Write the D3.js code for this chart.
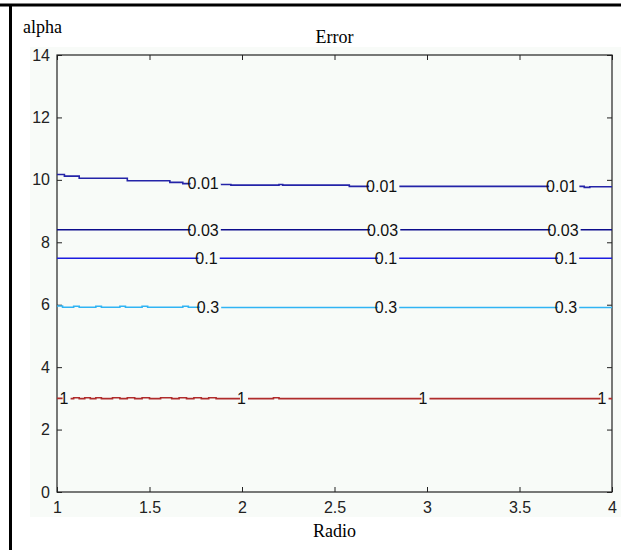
<!DOCTYPE html>
<html>
<head>
<meta charset="utf-8">
<script src="https://cdn.jsdelivr.net/npm/d3@7"></script>
<style>
  body { margin: 0; background: #fff; }
  svg { display: block; }
  .tick text { font-family: "Liberation Sans", Arial, sans-serif; font-size: 16px; fill: #222; }
  .tick line { stroke: #222; }
  .lbl { font-family: "Liberation Serif", "Times New Roman", serif; font-size: 18px; fill: #000; }
  .clabel { font-family: "Liberation Sans", Arial, sans-serif; font-size: 16px; fill: #111; }
</style>
</head>
<body>
<div id="chart"></div>
<script>
// Données : courbes de niveau de l'erreur (alpha en fonction de Radio)
const levels = ["0.01", "0.03", "0.1", "0.3", "1"];
const colors = ["#2424a8", "#0c0c8c", "#1c1ce0", "#30b4f4", "#b02c2c"];

const xTicks = [1, 1.5, 2, 2.5, 3, 3.5, 4];
const yTicks = [0, 2, 4, 6, 8, 10, 12, 14];

// points (radio, alpha) de chaque courbe, en escalier
const line001x = [1.00, 1.04, 1.12, 1.38, 1.61, 1.68, 1.88, 1.94, 2.20, 2.22, 2.58, 3.85, 3.88, 4.00];
const line001y = [10.17, 10.12, 10.05, 9.97, 9.92, 9.88, 9.85, 9.83, 9.85, 9.83, 9.79, 9.76, 9.78, 9.78];

const line003x = [1.00, 4.00];
const line003y = [8.40, 8.40];

const line01x = [1.00, 4.00];
const line01y = [7.49, 7.49];

const line03x = [1.00, 1.03, 1.09, 1.12, 1.21, 1.24, 1.34, 1.37, 1.46, 1.49, 1.68, 1.71, 1.80, 4.00];
const line03y = [5.96, 5.92, 5.95, 5.92, 5.95, 5.92, 5.95, 5.92, 5.95, 5.92, 5.95, 5.92, 5.91, 5.91];

const line1x = [1.00, 1.06, 1.09, 1.12, 1.15, 1.18, 1.21, 1.24, 1.30, 1.34, 1.38, 1.42, 1.46, 1.50,
                1.56, 1.62, 1.66, 1.70, 1.74, 1.78, 1.82, 1.86, 1.90, 2.00, 2.17, 2.20, 4.00];
const line1y = [3.00, 2.99, 3.02, 2.99, 3.02, 2.99, 3.02, 2.99, 3.02, 2.99, 3.02, 2.99, 3.02, 2.99,
                3.02, 2.99, 3.02, 2.99, 3.02, 2.99, 3.02, 2.99, 2.99, 2.99, 3.02, 2.99, 2.99];

const lineX = [line001x, line003x, line01x, line03x, line1x];
const lineY = [line001y, line003y, line01y, line03y, line1y];

// positions des étiquettes (valeur de Radio) sur chaque courbe
const labelX = [
  [1.79, 2.755, 3.728],
  [1.79, 2.76, 3.735],
  [1.808, 2.778, 3.751],
  [1.816, 2.778, 3.751],
  [1.038, 1.997, 2.978, 3.946]
];

const W = 621, H = 550;
const margin = { top: 55, right: 9, bottom: 58, left: 57 };
const width = W - margin.left - margin.right;
const height = H - margin.top - margin.bottom;
const bg = "#f8fbf8";

const svg = d3.select("#chart").append("svg")
  .attr("width", W)
  .attr("height", H);

// fond de la figure
svg.append("rect")
  .attr("x", 30).attr("y", 47)
  .attr("width", W - 30).attr("height", 470)
  .attr("fill", bg);

// cadre extérieur (haut et gauche)
svg.append("line").attr("x1", 0).attr("x2", W).attr("y1", 5).attr("y2", 5)
  .attr("stroke", "#000").attr("stroke-width", 3);
svg.append("line").attr("x1", 10.5).attr("x2", 10.5).attr("y1", 5).attr("y2", H)
  .attr("stroke", "#000").attr("stroke-width", 3);

const g = svg.append("g")
  .attr("transform", `translate(${margin.left},${margin.top})`);

const x = d3.scaleLinear().domain([1, 4]).range([0, width]);
const y = d3.scaleLinear().domain([0, 14]).range([height, 0]);

// Axes
g.append("g")
  .attr("transform", `translate(0,${height})`)
  .call(d3.axisBottom(x).tickValues(xTicks).tickFormat(d3.format("")).tickSizeInner(-5).tickSizeOuter(0).tickPadding(10))
  .call(a => a.select(".domain").remove());

g.append("g")
  .call(d3.axisLeft(y).tickValues(yTicks).tickSizeInner(-5).tickSizeOuter(0).tickPadding(7))
  .call(a => a.select(".domain").remove());

g.append("g")
  .call(d3.axisTop(x).tickValues(xTicks).tickFormat("").tickSizeInner(-5).tickSizeOuter(0))
  .call(a => a.select(".domain").remove());

g.append("g")
  .attr("transform", `translate(${width},0)`)
  .call(d3.axisRight(y).tickValues(yTicks).tickFormat("").tickSizeInner(-5).tickSizeOuter(0))
  .call(a => a.select(".domain").remove());

// cadre du graphique
g.append("rect")
  .attr("width", width).attr("height", height)
  .attr("fill", "none").attr("stroke", "#222").attr("stroke-width", 1.2);

// Courbes
const line = d3.line()
  .x(d => x(d[0]))
  .y(d => y(d[1]))
  .curve(d3.curveStepAfter);

levels.forEach((lev, i) => {
  const pts = lineX[i].map((v, j) => [v, lineY[i][j]]);
  g.append("path")
    .datum(pts)
    .attr("fill", "none")
    .attr("stroke", colors[i])
    .attr("stroke-width", 1.6)
    .attr("d", line);
});

// Étiquettes des courbes
function alphaAt(i, xv) {
  const xs = lineX[i], ys = lineY[i];
  let v = ys[0];
  xs.forEach((xx, j) => { if (xx <= xv) v = ys[j]; });
  return v;
}

levels.forEach((lev, i) => {
  labelX[i].forEach(xv => {
    const lg = g.append("g");
    const t = lg.append("text")
      .attr("class", "clabel")
      .attr("x", x(xv))
      .attr("y", y(alphaAt(i, xv)))
      .attr("dy", "0.36em")
      .attr("text-anchor", "middle")
      .text(lev);
    const bb = t.node().getBBox();
    lg.insert("rect", "text")
      .attr("x", bb.x + 3)
      .attr("y", bb.y + 2)
      .attr("width", bb.width - 1)
      .attr("height", bb.height - 4)
      .attr("fill", bg);
  });
});

// Titres
svg.append("text").attr("class", "lbl")
  .attr("x", 23).attr("y", 33).text("alpha");

svg.append("text").attr("class", "lbl")
  .attr("x", margin.left + width / 2).attr("y", 43)
  .attr("text-anchor", "middle").text("Error");

svg.append("text").attr("class", "lbl")
  .attr("x", margin.left + width / 2).attr("y", 537)
  .attr("text-anchor", "middle").text("Radio");
</script>
</body>
</html>
